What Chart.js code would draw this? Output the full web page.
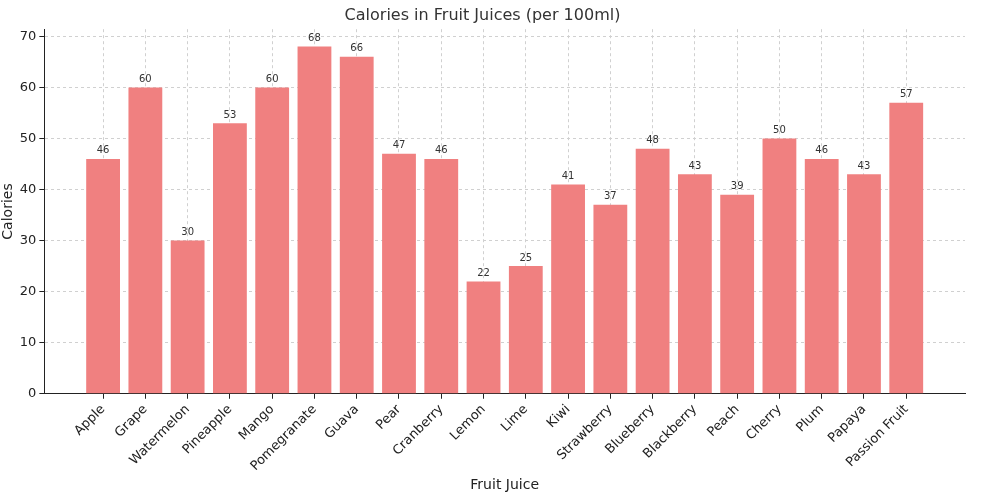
<!DOCTYPE html>
<html><head><meta charset="utf-8">
<script src="https://cdn.jsdelivr.net/npm/chart.js@4"></script>
<style>html,body{margin:0;padding:0;background:#fff}#w{width:1000px;height:496px}</style>
</head><body><div id="w"><canvas id="c"></canvas></div>
<script>
const categories = ["Apple","Grape","Watermelon","Pineapple","Mango","Pomegranate","Guava","Pear","Cranberry","Lemon","Lime","Kiwi","Strawberry","Blueberry","Blackberry","Peach","Cherry","Plum","Papaya","Passion Fruit"];
const calories = [46,60,30,53,60,68,66,47,46,22,25,41,37,48,43,39,50,46,43,57];
const yTicks = [0,10,20,30,40,50,60,70];
const font = "'DejaVu Sans', sans-serif";
const labelPlugin = {id:'lbl', afterDatasetsDraw(ch){
  const ctx=ch.ctx, meta=ch.getDatasetMeta(0);
  ctx.save(); ctx.font="10px "+font; ctx.fillStyle="#333"; ctx.textAlign="center"; ctx.textBaseline="bottom";
  meta.data.forEach((b,i)=>ctx.fillText(calories[i], b.x, b.y-3));
  ctx.restore();
}};
new Chart(document.getElementById('c'),{
  type:'bar',
  data:{datasets:[{data:calories.map((v,i)=>({x:i,y:v})),backgroundColor:'rgba(240,128,128,1)',categoryPercentage:1,barPercentage:0.8}]},
  options:{responsive:true,maintainAspectRatio:false,animation:false,
    layout:{padding:{left:0,right:35,top:4,bottom:0}},
    plugins:{legend:{display:false},tooltip:{enabled:false},
      title:{display:true,text:'Calories in Fruit Juices (per 100ml)',font:{family:font,size:16,weight:'normal'},color:'#333',padding:{top:2,bottom:4}}},
    scales:{
      x:{type:'linear',min:-1.39,max:20.39,offset:false,
        afterBuildTicks(ax){ax.ticks=categories.map((c,i)=>({value:i}));},
        ticks:{callback:(v)=>categories[v],maxRotation:45,minRotation:45,autoSkip:false,color:'#222',font:{family:font,size:13}},
        grid:{offset:false,color:'#d0d0d0',tickColor:'#222',tickLength:5,drawOnChartArea:true},border:{color:'#222',dash:[3,3]},
        title:{display:true,text:'Fruit Juice',font:{family:font,size:14},color:'#222',padding:{top:0,bottom:2}}},
      y:{min:0,max:71.4,
        afterBuildTicks(ax){ax.ticks=yTicks.map(v=>({value:v}));},
        ticks:{color:'#222',font:{family:font,size:13}},
        grid:{color:'#d0d0d0',tickColor:'#222',tickLength:5},border:{color:'#222',dash:[3,3]},
        title:{display:true,text:'Calories',font:{family:font,size:14},color:'#222',padding:{top:0,bottom:0}}}
    }},
  plugins:[labelPlugin]
});
</script></body></html>
